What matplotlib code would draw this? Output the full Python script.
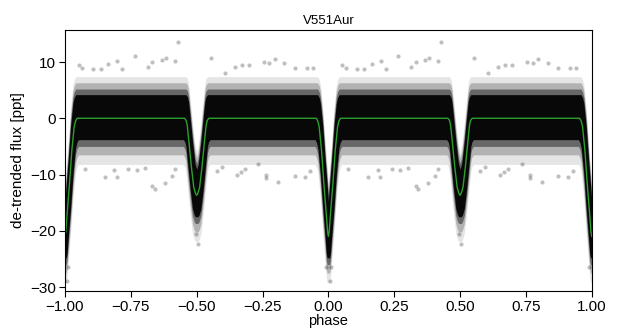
import numpy as np
import matplotlib
matplotlib.use("Agg")
import matplotlib.pyplot as plt
from numpy.lib.stride_tricks import sliding_window_view

plt.rcParams["font.family"] = ["Liberation Sans", "DejaVu Sans"]

# eclipse ingress shape (offset from eclipse centre, flux in ppt)
prim_dphase = [-0.046, -0.040, -0.035, -0.026, -0.017, -0.007, -0.003, 0.0]
prim_flux = [0.0, -0.5, -1.5, -5.7, -11.7, -17.6, -20.2, -21.0]
sec_dphase = [-0.046, -0.040, -0.036, -0.030, -0.020, -0.011, -0.004, 0.0]
sec_flux = [0.0, -0.4, -1.2, -3.9, -8.7, -12.3, -13.4, -13.7]
eclipse_centres = [-1.0, -0.5, 0.0, 0.5, 1.0]
eclipse_kind = ["prim", "sec", "prim", "sec", "prim"]

# spread of the data cloud around the model (ppt)
band_lo = [-8.2, -6.5, -5.0, -3.8]
band_hi = [7.4, 6.3, 5.2, 4.2]
band_alpha = [0.10, 0.22, 0.42, 0.92]
phase_smear = 0.005

# stray points, one period (the fold is repeated at +1)
out_phase = [-0.947, -0.934, -0.893, -0.863, -0.836, -0.802, -0.783, -0.734,
             -0.686, -0.669, -0.633, -0.618, -0.583, -0.572, -0.446, -0.393,
             -0.355, -0.328, -0.303, -0.244, -0.225, -0.203, -0.168, -0.127,
             -0.083, -0.060,
             -0.924, -0.848, -0.804, -0.813, -0.760, -0.728, -0.696, -0.669,
             -0.658, -0.621, -0.595, -0.583, -0.424, -0.405, -0.348, -0.332,
             -0.317, -0.266, -0.235, -0.235, -0.190, -0.127, -0.089, -0.070,
             -0.496, -0.992, -0.990, -0.503, -0.010]
out_flux = [9.5, 9.0, 8.75, 8.75, 9.6, 10.2, 8.75, 11.1,
            9.05, 10.0, 10.4, 10.7, 10.2, 13.6, 10.7, 8.1,
            9.05, 9.5, 9.5, 10.0, 9.9, 10.5, 9.9, 9.0,
            9.0, 9.0,
            -9.1, -10.5, -10.4, -9.2, -9.0, -9.2, -8.8, -12.0,
            -12.6, -11.5, -10.3, -9.0, -9.3, -8.7, -10.1, -9.6,
            -9.0, -8.1, -10.1, -10.7, -11.4, -10.2, -10.5, -9.3,
            -22.4, -28.9, -26.4, -20.5, -26.4]

shapes = {"prim": (prim_dphase, prim_flux), "sec": (sec_dphase, sec_flux)}
mx, my = [], []
for c, kind in zip(eclipse_centres, eclipse_kind):
    dp, fl = shapes[kind]
    seg_x = [c + d for d in dp] + [c - d for d in dp[::-1][1:]]
    seg_y = list(fl) + list(fl[::-1][1:])
    for x, y in zip(seg_x, seg_y):
        if -1.0 <= x <= 1.0:
            mx.append(x)
            my.append(y)
mx = np.array(mx)
my = np.array(my)

# cloud envelope: model smeared a little in phase
xf = np.linspace(-1, 1, 4001)
mf = np.interp(xf, mx, my)
half = int(round(phase_smear / (xf[1] - xf[0])))
padded = np.pad(mf, half, mode="edge")
win = sliding_window_view(padded, 2 * half + 1)
env_min = win.min(axis=1)
env_max = win.max(axis=1)

fig = plt.figure(figsize=(6.19, 3.29), dpi=100)
ax = fig.add_axes([0.105, 0.1155, 0.851, 0.7935])

for lo, hi, a in zip(band_lo, band_hi, band_alpha):
    ax.fill_between(xf, env_min + lo, env_max + hi, color="black", alpha=a, lw=0)

op = np.array(out_phase)
ax.scatter(np.concatenate([op, op + 1]), out_flux + out_flux, s=9, color="black",
           alpha=0.25, lw=0)

ax.plot(mx, my, color="#2ca02c", lw=1.0)

ax.set_xlim(-1, 1)
ax.set_ylim(-30.7, 15.7)
ax.set_xticks(np.arange(-1, 1.01, 0.25))
ax.set_yticks([-30, -20, -10, 0, 10])
ax.tick_params(labelsize=11, length=4, width=0.8, pad=2.5)
ax.set_xlabel("phase", fontsize=10.5, labelpad=0)
ax.set_ylabel("de-trended flux [ppt]", fontsize=11)
ax.set_title("V551Aur", fontsize=9.5, pad=4)
for s in ax.spines.values():
    s.set_linewidth(0.8)

fig.savefig("out.png", dpi=100)
